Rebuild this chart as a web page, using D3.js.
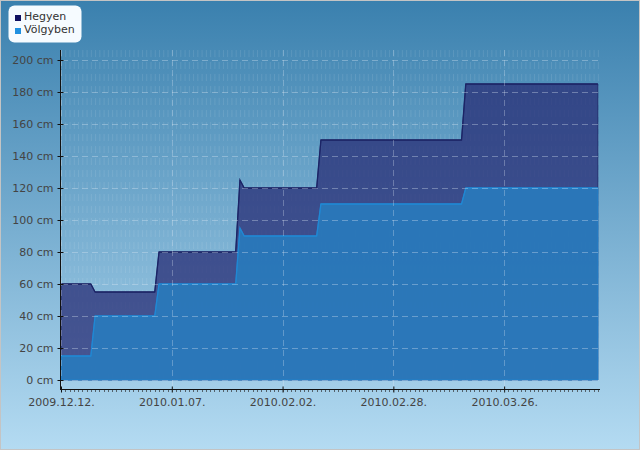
<!DOCTYPE html>
<html lang="hu">
<head>
  <meta charset="UTF-8">
  <title>Hóvastagság</title>
  <script src="https://d3js.org/d3.v7.min.js"></script>
  <style>
    body { margin: 0; }
    text { font-family: "DejaVu Sans", sans-serif; font-size: 11px; fill: #444; }
    .legend text { fill: #333; }
  </style>
</head>
<body>
  <div id="chart"></div>

  <script>
    // day offsets from 2009-12-12 where the value changes
    const startDate = new Date(2009, 11, 12);
    const days = [0, 7, 8, 22, 23, 41, 42, 43, 60, 61, 94, 95, 126];
    const hegyen = [60, 60, 55, 55, 80, 80, 125, 120, 120, 150, 150, 185, 185];
    const volgyben = [15, 15, 40, 40, 60, 60, 95, 90, 90, 110, 110, 120, 120];
    const seriesNames = ["Hegyen", "Völgyben"];
    const yTicks = [0, 20, 40, 60, 80, 100, 120, 140, 160, 180, 200];
    const xTickDays = [0, 26, 52, 78, 104];

    const W = 640, H = 450;
    const dayToDate = d => d3.timeDay.offset(startDate, d);

    const svg = d3.select("#chart").append("svg")
      .attr("width", W).attr("height", H);

    const defs = svg.append("defs");
    const grad = defs.append("linearGradient").attr("id", "bg")
      .attr("x1", 0).attr("y1", 0).attr("x2", 0).attr("y2", 1);
    grad.append("stop").attr("offset", "0%").attr("stop-color", "#3a80ae");
    grad.append("stop").attr("offset", "100%").attr("stop-color", "#b4dbf2");

    svg.append("rect").attr("width", W).attr("height", H).attr("fill", "url(#bg)");
    svg.append("rect").attr("x", 0.5).attr("y", 0.5).attr("width", W - 1).attr("height", H - 1)
      .attr("fill", "none").attr("stroke", "#c4c4c4");

    const x = d3.scaleTime()
      .domain([dayToDate(0), d3.timeHour.offset(dayToDate(126), 12)])
      .range([61, 600]);
    const y = d3.scaleLinear().domain([0, 200]).range([380, 60]);
    const plotTop = 50, plotBottom = 389;

    // faint daily grid
    svg.append("g").selectAll("line")
      .data(d3.range(0, 127))
      .join("line")
      .attr("x1", d => x(dayToDate(d)) + 0.5).attr("x2", d => x(dayToDate(d)) + 0.5)
      .attr("y1", plotTop).attr("y2", plotBottom - 4)
      .attr("stroke", "#fff").attr("stroke-opacity", 0.1)
      .attr("stroke-dasharray", "7,5");

    const areaH = d3.area()
      .x((d, i) => x(dayToDate(days[i])))
      .y0(y(0)).y1(d => y(d));
    const lineH = d3.line()
      .x((d, i) => x(dayToDate(days[i])))
      .y(d => y(d));

    svg.append("path").datum(hegyen)
      .attr("d", areaH).attr("fill", "rgb(40,46,118)").attr("fill-opacity", 0.75)
      .attr("stroke", "#1c2466").attr("stroke-width", 0.8);
    svg.append("path").datum(hegyen)
      .attr("d", lineH).attr("fill", "none").attr("stroke", "#1c2466").attr("stroke-width", 1.3);

    svg.append("path").datum(volgyben)
      .attr("d", areaH).attr("fill", "rgb(40,124,190)").attr("fill-opacity", 0.88)
      .attr("stroke", "#2088d4").attr("stroke-width", 0.8);
    svg.append("path").datum(volgyben)
      .attr("d", lineH).attr("fill", "none").attr("stroke", "#2088d4").attr("stroke-width", 1.3);

    // grid lines
    svg.append("g").selectAll("line")
      .data(yTicks)
      .join("line")
      .attr("x1", 62).attr("x2", 600)
      .attr("y1", d => Math.round(y(d)) + 0.5).attr("y2", d => Math.round(y(d)) + 0.5)
      .attr("stroke", "#dde8f4").attr("stroke-opacity", 0.35)
      .attr("stroke-dasharray", "6,4");

    svg.append("g").selectAll("line")
      .data(xTickDays)
      .join("line")
      .attr("x1", d => Math.round(x(dayToDate(d))) + 0.5).attr("x2", d => Math.round(x(dayToDate(d))) + 0.5)
      .attr("y1", plotTop).attr("y2", plotBottom)
      .attr("stroke", "#dde8f4").attr("stroke-opacity", 0.3)
      .attr("stroke-dasharray", "6,4");

    // y axis
    const yAxis = svg.append("g")
      .attr("transform", "translate(60.5,0)")
      .call(d3.axisLeft(y).tickValues(yTicks).tickSize(3).tickPadding(3).tickFormat(d => d + " cm"));
    yAxis.select(".domain").attr("d", `M0,${plotTop}V${plotBottom}`).attr("stroke", "#111");
    yAxis.selectAll(".tick line").attr("x2", 3).attr("x1", -3).attr("stroke", "#111");
    yAxis.selectAll("text").attr("x", -7).attr("font-size", 11).attr("fill", "#444")
      .attr("font-family", "DejaVu Sans, sans-serif");

    // x axis
    const xAxis = svg.append("g")
      .attr("transform", `translate(0,${plotBottom + 0.5})`)
      .call(d3.axisBottom(x).tickValues(xTickDays.map(dayToDate)).tickSize(3).tickPadding(6)
        .tickFormat(d3.timeFormat("%Y.%m.%d.")));
    xAxis.select(".domain").attr("d", "M60,0H600").attr("stroke", "#111");
    xAxis.selectAll(".tick line").attr("y1", -3).attr("y2", 3).attr("stroke", "#111");
    xAxis.selectAll("text").attr("font-size", 11).attr("fill", "#444")
      .attr("font-family", "DejaVu Sans, sans-serif");

    // daily minor ticks
    svg.append("g").selectAll("line")
      .data(d3.range(1, 127))
      .join("line")
      .attr("x1", d => Math.round(x(dayToDate(d))) + 0.5).attr("x2", d => Math.round(x(dayToDate(d))) + 0.5)
      .attr("y1", plotBottom + 1).attr("y2", plotBottom + 3)
      .attr("stroke", "#333").attr("stroke-opacity", 0.7);

    // legend
    const legend = svg.append("g").attr("class", "legend");
    legend.append("rect").attr("x", 8.5).attr("y", 5.5).attr("width", 73).attr("height", 37)
      .attr("rx", 6).attr("fill", "#f6fbff");
    const colors = ["#101060", "#2090e0"];
    seriesNames.forEach((name, i) => {
      legend.append("rect").attr("x", 15).attr("y", 15 + i * 13).attr("width", 6).attr("height", 6)
        .attr("fill", colors[i]);
      legend.append("text").attr("x", 24).attr("y", 20 + i * 13).text(name);
    });
  </script>
</body>
</html>
